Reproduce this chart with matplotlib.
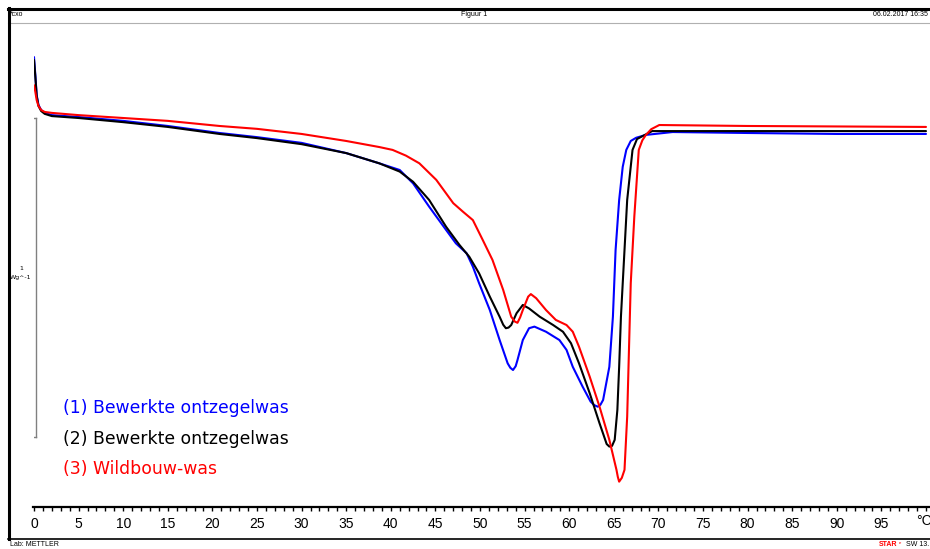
import matplotlib
matplotlib.use("Agg")
import matplotlib.pyplot as plt
from matplotlib.lines import Line2D
from matplotlib.ticker import MultipleLocator

# Temperature (°C) and heat flow (W/g, arbitrary offset)
t_blue = [0, 0.15, 0.3, 0.5, 0.8, 1.2, 2, 5, 10, 15, 20.8, 25, 30, 35, 38.7, 41.0, 42.5, 44.3,
          46.2, 47.3, 48.5, 49.2, 49.9, 51.1, 52.2, 53.1, 53.4, 53.7, 54.0, 54.2, 54.8, 55.5,
          56.1, 57.4, 58.9, 59.7, 60.4, 61.5, 62.4, 62.8, 63.2, 63.5, 63.8, 64.5, 64.9, 65.2,
          65.6, 66.0, 66.4, 66.9, 67.5, 68.6, 71.6, 80, 90, 100]
hf_blue = [0.191, 0.135, 0.072, 0.041, 0.025, 0.016, 0.009, 0.003, -0.009, -0.025, -0.047,
           -0.060, -0.078, -0.110, -0.142, -0.163, -0.205, -0.278, -0.351, -0.393, -0.424,
           -0.466, -0.518, -0.602, -0.696, -0.769, -0.783, -0.790, -0.778, -0.759, -0.696,
           -0.659, -0.654, -0.670, -0.696, -0.727, -0.780, -0.842, -0.889, -0.900, -0.905,
           -0.899, -0.884, -0.780, -0.623, -0.414, -0.257, -0.153, -0.100, -0.072, -0.062,
           -0.053, -0.044, -0.047, -0.050, -0.050]

t_black = [0, 0.15, 0.3, 0.5, 0.8, 1.2, 2, 5, 10, 15, 20.8, 25, 30, 35, 38.7, 41.0, 42.5, 44.3,
           46.2, 47.7, 48.8, 49.9, 51.1, 52.2, 52.6, 52.9, 53.2, 53.5, 54.1, 54.8, 55.5, 56.7,
           58.2, 59.3, 60.2, 61.1, 62.3, 63.4, 64.2, 64.5, 64.8, 65.1, 65.4, 65.6, 65.8, 66.2,
           66.5, 67.1, 67.6, 69.3, 80, 100]
hf_black = [0.182, 0.129, 0.069, 0.038, 0.022, 0.013, 0.006, 0.000, -0.013, -0.028, -0.050,
            -0.063, -0.082, -0.110, -0.142, -0.168, -0.200, -0.257, -0.341, -0.398, -0.435,
            -0.487, -0.560, -0.623, -0.648, -0.659, -0.657, -0.649, -0.612, -0.586, -0.597,
            -0.623, -0.649, -0.670, -0.706, -0.769, -0.863, -0.957, -1.022, -1.030, -1.028,
            -1.009, -0.915, -0.780, -0.623, -0.414, -0.257, -0.100, -0.066, -0.041, -0.041,
            -0.041]

t_red = [0, 0.15, 0.3, 0.5, 0.8, 1.2, 2, 5, 10, 15, 20.8, 25, 30, 35, 38.7, 40.2, 41.7, 43.2,
         45.1, 47.0, 48.1, 49.2, 50.3, 51.4, 52.6, 53.5, 53.9, 54.2, 54.5, 54.8, 55.4, 55.7,
         56.3, 57.4, 58.5, 59.7, 60.4, 61.1, 62.3, 63.4, 64.5, 65.3, 65.45, 65.6, 65.9, 66.2,
         66.5, 66.7, 66.9, 67.3, 67.8, 68.2, 68.6, 69.2, 70.1, 80, 100]
hf_red = [0.103, 0.082, 0.056, 0.038, 0.025, 0.019, 0.016, 0.009, 0.000, -0.009, -0.025,
          -0.034, -0.050, -0.072, -0.091, -0.100, -0.118, -0.142, -0.194, -0.267, -0.294,
          -0.320, -0.382, -0.445, -0.539, -0.623, -0.638, -0.642, -0.625, -0.602, -0.560,
          -0.552, -0.565, -0.602, -0.633, -0.649, -0.670, -0.717, -0.811, -0.905, -1.009,
          -1.103, -1.125, -1.140, -1.128, -1.103, -0.936, -0.727, -0.518, -0.309, -0.100,
          -0.070, -0.053, -0.035, -0.022, -0.025, -0.028]

labels = ["(1) Bewerkte ontzegelwas", "(2) Bewerkte ontzegelwas", "(3) Wildbouw-was"]
colors = ["#0000ff", "#000000", "#ff0000"]
xticks = list(range(0, 100, 5))

W, H = 930, 549
fig = plt.figure(figsize=(W / 100, H / 100), dpi=100)
fig.patch.set_facecolor("white")


def fx(x):
    return x / W


def fy(y):
    return 1 - y / H


# axes: T=0 at x=34 px, 8.92 px/°C; heat flow 0 at y=118 px, 1 W/g = 319 px
ax_l, ax_r, ax_t, ax_b = 34, 930, 22, 507
ax = fig.add_axes([fx(ax_l), fy(ax_b), (ax_r - ax_l) / W, (ax_b - ax_t) / H])
ax.set_xlim(0, (ax_r - ax_l) / 8.92)
ax.set_ylim(-(ax_b - 118) / 319, (118 - ax_t) / 319)
ax.patch.set_alpha(0)
for s in ["top", "right", "left"]:
    ax.spines[s].set_visible(False)
ax.spines["bottom"].set_linewidth(1.6)
ax.spines["bottom"].set_bounds(-0.1, 101)
ax.set_yticks([])
ax.xaxis.set_major_locator(MultipleLocator(5))
ax.xaxis.set_minor_locator(MultipleLocator(1))
ax.set_xticks(xticks)
ax.set_xticklabels([str(v) for v in xticks], fontsize=10,
                   family=["Liberation Sans", "DejaVu Sans"])
ax.tick_params(axis="x", which="both", direction="out", length=3, width=1, pad=4, colors="black")

series = [(t_blue, hf_blue), (t_black, hf_black), (t_red, hf_red)]
for (t, hf), c in zip(series, colors):
    ax.plot(t, hf, color=c, lw=1.5, solid_joinstyle="round", solid_capstyle="round")

# scale bar 1 W/g
ax.plot([0.22, 0.22], [0, -1], color="#808080", lw=1)
ax.plot([0.0, 0.22], [0, 0], color="#808080", lw=1)
ax.plot([0.0, 0.22], [-1, -1], color="#808080", lw=1)
fig.text(fx(21), fy(268), "1", fontsize=4.5, ha="center", va="center")
fig.text(fx(21), fy(277), "Wg^-1", fontsize=4.5, ha="center", va="center")

# °C unit label
fig.text(fx(916), fy(521), "°C", fontsize=10, ha="left", va="center",
         family=["Liberation Sans", "DejaVu Sans"])

# legend texts
for i, (lab, c) in enumerate(zip(labels, colors)):
    fig.text(fx(63), fy(408 + 30.5 * i), lab, color=c, fontsize=12.4, ha="left",
             va="center", family="DejaVu Sans")

# frame lines
fig.add_artist(Line2D([fx(8), fx(930)], [fy(8.5), fy(8.5)], color="black", lw=2.2))
fig.add_artist(Line2D([fx(8), fx(930)], [fy(22.5), fy(22.5)], color="#b0b0b0", lw=0.8))
fig.add_artist(Line2D([fx(8.5), fx(8.5)], [fy(7.5), fy(538.5)], color="black", lw=2.2))
fig.add_artist(Line2D([fx(8), fx(930)], [fy(538.5), fy(538.5)], color="black", lw=1.2))

# header / footer
hf_font = ["Liberation Sans", "DejaVu Sans"]
fig.text(fx(10), fy(14.5), "*cxo", fontsize=5, ha="left", va="center", family=hf_font)
fig.text(fx(474), fy(14.5), "Figuur 1", fontsize=5, ha="center", va="center", family=hf_font)
fig.text(fx(928), fy(14.5), "06.02.2017 16:35", fontsize=5, ha="right", va="center", family=hf_font)
fig.text(fx(10), fy(544.5), "Lab: METTLER", fontsize=5, ha="left", va="center", family=hf_font)
fig.text(fx(879), fy(544.5), "STAR", fontsize=5, ha="left", va="center", color="red",
         family=hf_font, weight="bold")
fig.text(fx(898.5), fy(542.5), "e", fontsize=3.2, ha="left", va="center", color="red",
         family=hf_font)
fig.text(fx(929.5), fy(544.5), "SW 13.", fontsize=5, ha="right", va="center", family=hf_font)

fig.savefig("out.png", dpi=100, facecolor="white")
